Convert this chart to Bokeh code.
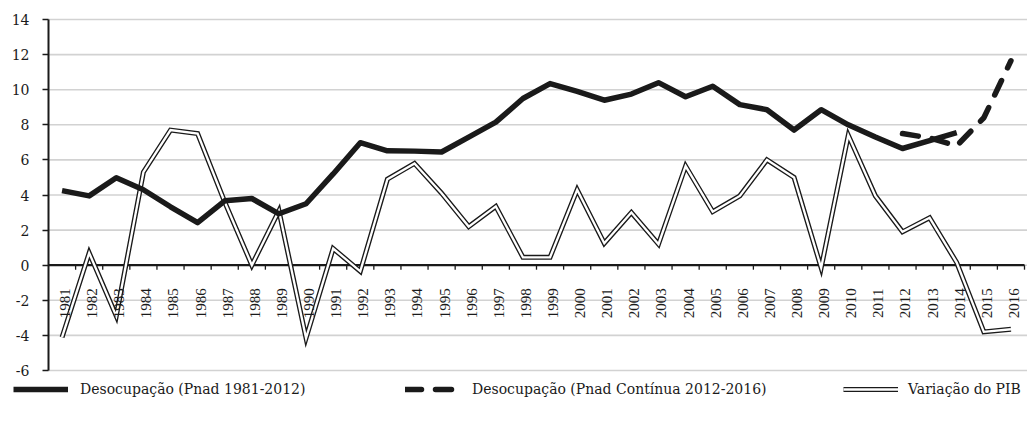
from bokeh.plotting import figure
from bokeh.models import (Range1d, FixedTicker, Legend, LegendItem,
                          ColumnDataSource, LabelSet)
from bokeh.embed import file_html
from bokeh.resources import INLINE

years = list(range(1981, 2017))

# Desocupação (Pnad 1981-2012) — line continues to 2014 in the source chart
desoc_pnad_years = list(range(1981, 2015))
desoc_pnad = [4.25, 3.95, 4.98, 4.3, 3.33, 2.42, 3.67, 3.8, 2.93, 3.5,
              5.2, 6.98, 6.52, 6.5, 6.45, 7.3, 8.15, 9.5, 10.35, 9.9,
              9.4, 9.75, 10.4, 9.6, 10.2, 9.15, 8.86, 7.7, 8.86, 8.0,
              7.3, 6.65, 7.1, 7.55]

# Desocupação (Pnad Contínua 2012-2016)
desoc_cont_years = [2012, 2013, 2014, 2015, 2016]
desoc_cont = [7.5, 7.25, 6.8, 8.4, 11.65]

# Variação do PIB
pib = [-4.1, 0.7, -2.9, 5.3, 7.7, 7.5, 3.6, 0.0, 3.1, -4.15,
       0.95, -0.35, 4.9, 5.8, 4.1, 2.2, 3.35, 0.45, 0.45, 4.3,
       1.25, 3.0, 1.2, 5.65, 3.05, 3.95, 6.0, 5.0, -0.15, 7.4,
       3.95, 1.9, 2.7, 0.15, -3.8, -3.65]

y_ticks = list(range(-6, 15, 2))

legend_labels = ["Desocupação (Pnad 1981-2012)",
                 "Desocupação (Pnad Contínua 2012-2016)",
                 "Variação do PIB"]

FONT = "DejaVu Serif"
INK = "#1a1a1a"
GRID = "#d2d2d2"

# ---- page geometry (pixels) ----
W, H = 1027, 429
PLOT_L, PLOT_R, PLOT_T, PLOT_B = 48, 1024, 19, 370
LABEL_SIZE = 15
LABEL_GAP = 19                               # px from zero line to label top
LABEL_HALF = 4 * 0.636 * LABEL_SIZE / 2      # half length of a 4-digit label
LABEL_DX = 3                                 # px shift right of category centre

x_lo = years[0] - 0.5
x_hi = years[-1] + 0.5
xs = (PLOT_R - PLOT_L) / (x_hi - x_lo)
y_lo, y_hi = y_ticks[0], y_ticks[-1]
ys = (PLOT_B - PLOT_T) / (y_hi - y_lo)

x_range = Range1d(x_lo - PLOT_L / xs, x_hi + (W - PLOT_R) / xs)
y_range = Range1d(y_lo - (H - PLOT_B) / ys, y_hi + PLOT_T / ys)

p = figure(width=W, height=H, output_backend="svg", toolbar_location=None,
           x_range=x_range, y_range=y_range,
           min_border_left=0, min_border_right=0, min_border_top=0,
           min_border_bottom=0)
p.outline_line_color = None
p.background_fill_color = "white"
p.xaxis.visible = False
p.grid.visible = False

# y axis fixed at left edge of categories
p.yaxis.fixed_location = x_lo
p.yaxis.bounds = (y_lo, y_hi)
p.yaxis.ticker = FixedTicker(ticks=y_ticks)
p.yaxis.major_label_overrides = {t: str(t) for t in y_ticks}
p.yaxis.axis_line_color = INK
p.yaxis.axis_line_width = 2
p.yaxis.major_tick_line_color = INK
p.yaxis.major_tick_line_width = 1.5
p.yaxis.major_tick_out = 6
p.yaxis.major_tick_in = 0
p.yaxis.minor_tick_line_color = None
p.yaxis.major_label_text_font = FONT
p.yaxis.major_label_text_font_size = "14px"
p.yaxis.major_label_text_color = INK
p.yaxis.major_label_standoff = 13

# horizontal gridlines
n = len(y_ticks)
p.segment(x0=[x_lo] * n, y0=y_ticks, x1=[x_range.end] * n, y1=y_ticks,
          line_color=GRID, line_width=1.6)

# zero line as category axis
p.segment(x0=[x_lo], y0=[0], x1=[x_hi], y1=[0], line_color=INK, line_width=2.2)

# category boundary ticks
bounds = [y + 0.5 for y in years]
p.segment(x0=bounds, y0=[0] * len(bounds), x1=bounds, y1=[-4.5 / ys] * len(bounds),
          line_color=INK, line_width=1.3)

# rotated category labels (hung just below the zero line)
lab_src = ColumnDataSource(dict(x=[y + LABEL_DX / xs for y in years],
                                y=[-(LABEL_GAP + LABEL_HALF) / ys] * len(years),
                                t=[str(y) for y in years]))
p.add_layout(LabelSet(x="x", y="y", text="t", source=lab_src, angle=90,
                      angle_units="deg", text_align="center", text_baseline="middle",
                      text_font=FONT, text_font_size=f"{LABEL_SIZE}px", text_color=INK))

# PIB double line
r_pib_b = p.line(years, pib, line_color=INK, line_width=5.0, line_join="miter")
r_pib_w = p.line(years, pib, line_color="white", line_width=2.3, line_join="miter")

# Desocupação lines
r_solid = p.line(desoc_pnad_years, desoc_pnad, line_color=INK, line_width=5.5,
                 line_join="round")
r_dash = p.line(desoc_cont_years, desoc_cont, line_color=INK, line_width=5.5,
                line_dash="16 14", line_cap="round")

def mk_legend(items, loc, standoff=12):
    lg = Legend(items=items, location=loc, orientation="horizontal",
                border_line_color=None, background_fill_alpha=0,
                padding=0, margin=0, glyph_width=55, glyph_height=20,
                label_standoff=standoff, label_text_font=FONT,
                label_text_font_size="14px", label_text_color=INK,
                label_height=20)
    p.add_layout(lg, "center")

mk_legend([LegendItem(label=legend_labels[0], renderers=[r_solid])], (13, 30))
mk_legend([LegendItem(label=legend_labels[1], renderers=[r_dash])], (405, 30))
mk_legend([LegendItem(label=legend_labels[2], renderers=[r_pib_b, r_pib_w])], (843, 30),
          standoff=10)

open("out.html", "w").write(file_html(p, INLINE))
